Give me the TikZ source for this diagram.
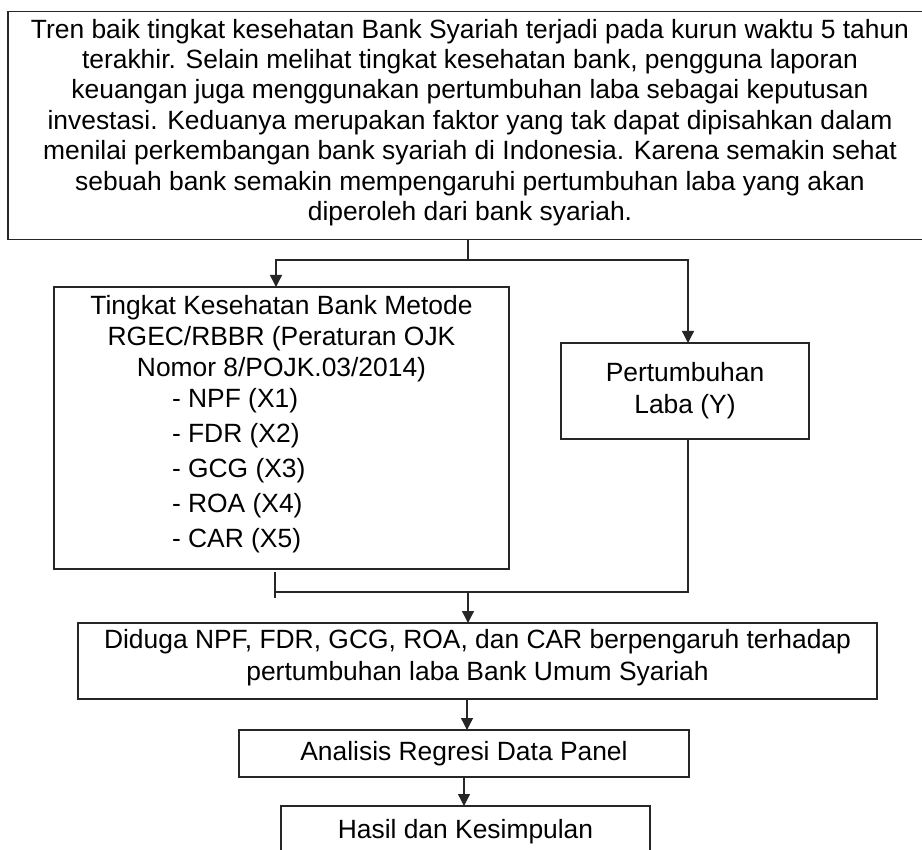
\documentclass[tikz,border=0pt]{standalone}
\usepackage{fontspec}
\setmainfont{Liberation Sans}
\usetikzlibrary{arrows.meta}
\begin{document}
\begin{tikzpicture}[x=1pt,y=-1pt,
  every node/.style={inner sep=0pt, outer sep=0pt},
  boxstyle/.style={draw=black!85, line width=1.3pt, rectangle, align=center},
  conn/.style={draw=black!85, line width=1.3pt},
  arr/.style={conn, -{Triangle[width=12pt,length=12pt]}},
  ]
\useasboundingbox (0,0) rectangle (922,850);
% boxes
\node[boxstyle, minimum width=924pt, minimum height=228pt,
  font=\fontsize{26.4}{30.4}\selectfont] (top) at (470,125.5)
  {Tren baik tingkat kesehatan Bank Syariah terjadi pada kurun waktu 5 tahun\\
   terakhir. Selain melihat tingkat kesehatan bank, pengguna laporan\\
   keuangan juga menggunakan pertumbuhan laba sebagai keputusan\\
   investasi. Keduanya merupakan faktor yang tak dapat dipisahkan dalam\\
   menilai perkembangan bank syariah di Indonesia. Karena semakin sehat\\
   sebuah bank semakin mempengaruhi pertumbuhan laba yang akan\\
   diperoleh dari bank syariah.\rule[-11.5pt]{0pt}{1pt}};
\node[boxstyle, minimum width=455pt, minimum height=282pt,
  font=\fontsize{26.4}{31}\selectfont] (lb) at (281.5,428)
  {Tingkat Kesehatan Bank Metode\\
   RGEC/RBBR (Peraturan OJK\\
   Nomor 8/POJK.03/2014)\\
   \makebox[219pt][l]{- NPF (X1)}\\[4pt]
   \makebox[219pt][l]{- FDR (X2)}\\[4pt]
   \makebox[219pt][l]{- GCG (X3)}\\[4pt]
   \makebox[219pt][l]{- ROA (X4)}\\[4pt]
   \makebox[219pt][l]{- CAR (X5)\rule[-13pt]{0pt}{1pt}}};
\node[boxstyle, minimum width=248pt, minimum height=96pt,
  font=\fontsize{26.4}{32}\selectfont] (rb) at (685,391)
  {Pertumbuhan\\Laba (Y)};
\node[boxstyle, minimum width=799pt, minimum height=76pt,
  font=\fontsize{26.4}{32}\selectfont] (b3) at (477.5,661)
  {Diduga NPF, FDR, GCG, ROA, dan CAR berpengaruh terhadap\\
   pertumbuhan laba Bank Umum Syariah\rule[-13pt]{0pt}{1pt}};
\node[boxstyle, minimum width=450pt, minimum height=47pt,
  font=\fontsize{26.4}{32}\selectfont] (b4) at (464,753.5)
  {Analisis Regresi Data Panel};
\node[boxstyle, minimum width=369pt, minimum height=52pt,
  font=\fontsize{26.4}{32}\selectfont] (b5) at (465.5,832)
  {Hasil dan Kesimpulan};
% helper coordinates
\coordinate (j1) at (468,260);
\coordinate (xl) at (276,0);
\coordinate (xr) at (688,0);
\coordinate (m1) at (275,592);
\coordinate (m2) at (468,592);
\coordinate (x4) at (467,0);
\coordinate (x5) at (464,0);
% connectors
\draw[conn] (top.south -| j1) -- (j1);
\draw[arr] (j1) -| (lb.north -| xl);
\draw[arr] (j1) -| (rb.north -| xr);
\draw[conn] ([yshift=-3pt]lb.south -| m1) -- ([yshift=-6pt]m1);
\draw[conn] (rb.south -| xr) |- (m1);
\draw[arr] (m2) -- (b3.north -| m2);
\draw[arr] (b3.south -| x4) -- (b4.north -| x4);
\draw[arr] (b4.south -| x5) -- (b5.north -| x5);
\end{tikzpicture}
\end{document}
